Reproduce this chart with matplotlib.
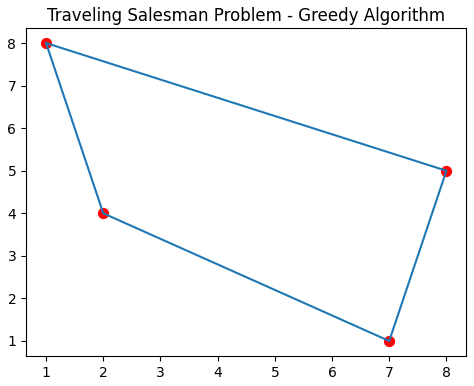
import matplotlib
matplotlib.use("Agg")
import matplotlib.pyplot as plt

city_x = [1, 8, 7, 2]
city_y = [8, 5, 1, 4]
tour_order = [0, 3, 2, 1, 0]

fig = plt.figure(figsize=(4.74, 3.86), dpi=100)
ax = fig.add_axes([0.055, 0.078, 0.929, 0.849])
ax.scatter(city_x, city_y, c='red', s=50, zorder=1)
tx = [city_x[i] for i in tour_order]
ty = [city_y[i] for i in tour_order]
ax.plot(tx, ty, color='#1f77b4', zorder=2)
ax.set_title("Traveling Salesman Problem - Greedy Algorithm", pad=5)
fig.savefig("out.png", dpi=100)
